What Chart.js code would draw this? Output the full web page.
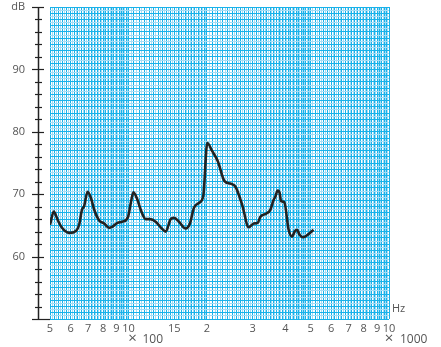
<!DOCTYPE html>
<html>
<head>
<meta charset="utf-8">
<script src="https://cdn.jsdelivr.net/npm/chart.js@4.4.1/dist/chart.umd.min.js"></script>
<style>
  html, body { margin: 0; padding: 0; background: #fff; }
  #wrap { width: 441px; height: 347px; position: relative; }
</style>
</head>
<body>
<div id="wrap"><canvas id="chart" width="441" height="347"></canvas></div>
<script>
// Measured response: frequency (Hz) and sound level (dB)
const freqHz = [500, 517, 535, 554, 593, 629, 647, 663, 676, 697,
  718, 739, 772, 807, 843, 869, 908, 949, 997, 1021,
  1045, 1083, 1115, 1165, 1210, 1272, 1350, 1390, 1453, 1495,
  1563, 1658, 1722, 1783, 1864, 1937, 2007, 2097, 2203, 2337,
  2464, 2575, 2732, 2895, 3026, 3134, 3210, 3384, 3505, 3609,
  3663, 3738, 3805, 3852, 3965, 4119, 4245, 4344, 4436, 4539,
  4676, 4912, 5133];
const levelDb = [65.1, 67.2, 65.9, 64.7, 63.8, 64.1, 65.1, 67.5, 68.1, 70.4,
  69.4, 67.5, 65.8, 65.3, 64.6, 64.8, 65.4, 65.6, 66.4, 68.6,
  70.3, 69.1, 67.5, 66.0, 66.0, 65.6, 64.4, 64.0, 66.0, 66.2,
  65.6, 64.5, 65.3, 67.8, 68.6, 69.7, 78.2, 76.9, 75.3, 72.1,
  71.7, 71.2, 68.3, 64.7, 65.3, 65.4, 66.4, 66.9, 67.5, 69.1,
  69.6, 70.6, 70.2, 68.9, 68.7, 64.3, 63.2, 64.0, 64.3, 63.5,
  63.1, 63.6, 64.3];

// Frequency axis labels (mantissa only, multipliers written below)
const xTickValues = [500, 600, 700, 800, 900, 1000, 1500, 2000, 3000, 4000, 5000, 6000, 7000, 8000, 9000, 10000];
const xTickText   = ['5', '6', '7', '8', '9', '10', '15', '2', '3', '4', '5', '6', '7', '8', '9', '10'];
// Level axis labels
const yTickValues = [60, 70, 80, 90];
const yTickText   = ['60', '70', '80', '90'];

const GRID_DARK = '#19b2ea';
const GRID_LIGHT = '#a3dcf5';
const INK = '#222';
const TEXT = '#555';
const FONT = '"Open Sans", "DejaVu Sans", sans-serif';

// Log graph-paper rulings: [from, to, major step]; a light line sits halfway between majors
const xRulings = [[500, 1000, 20], [1000, 2000, 50], [2000, 5000, 100], [5000, 10000, 200]];
const xGrid = [];
xRulings.forEach(([a, b, s]) => {
  for (let v = a; v < b - 1e-6; v += s) {
    xGrid.push({ value: v, major: true });
    xGrid.push({ value: v + s / 2, major: false });
  }
});
xGrid.push({ value: 10000, major: true });
const yGrid = [];
for (let v = 50; v <= 100; v += 0.5) yGrid.push({ value: v, major: Number.isInteger(v) });

const xLabel = {}; xTickValues.forEach((v, i) => xLabel[v] = xTickText[i]);
const yLabel = {}; yTickValues.forEach((v, i) => yLabel[v] = yTickText[i]);

// Left-hand dB ruler with tick marks, plus unit captions
const annotations = {
  id: 'annotations',
  afterDraw(chart) {
    const { ctx, scales: { x, y }, chartArea } = chart;
    ctx.save();
    const ax = 38.5;
    ctx.strokeStyle = INK;
    ctx.lineWidth = 1.5;
    ctx.beginPath();
    ctx.moveTo(ax, y.getPixelForValue(100));
    ctx.lineTo(ax, y.getPixelForValue(50));
    ctx.stroke();
    ctx.lineWidth = 1.2;
    for (let v = 50; v <= 100; v += 2) {
      const py = Math.round(y.getPixelForValue(v)) + 0.5;
      ctx.beginPath();
      if (v === 50) { ctx.moveTo(32, py); ctx.lineTo(chartArea.left, py); }
      else if (v % 10 === 0) { ctx.moveTo(32, py); ctx.lineTo(44, py); }
      else { ctx.moveTo(35, py); ctx.lineTo(42, py); }
      ctx.stroke();
    }
    ctx.fillStyle = TEXT;
    ctx.font = '11px ' + FONT;
    ctx.textBaseline = 'middle';
    ctx.textAlign = 'right';
    ctx.fillText('dB', 25, 7);
    ctx.textAlign = 'left';
    ctx.fillText('Hz', 392, 309);
    const x1 = x.getPixelForValue(1000);
    const x2 = x.getPixelForValue(10000);
    ctx.font = '15px ' + FONT;
    ctx.textAlign = 'center';
    ctx.fillText('\u00d7', x1 + 4, 339);
    ctx.fillText('\u00d7', x2, 339);
    ctx.font = '12px ' + FONT;
    ctx.textAlign = 'left';
    ctx.fillText('100', x1 + 14, 340);
    ctx.fillText('1000', x2 + 11, 340);
    ctx.restore();
  }
};

new Chart(document.getElementById('chart'), {
  type: 'line',
  data: {
    datasets: [{
      data: freqHz.map((f, i) => ({ x: f, y: levelDb[i] })),
      borderColor: INK,
      borderWidth: 2.6,
      pointRadius: 0,
      fill: false,
      cubicInterpolationMode: 'monotone'
    }]
  },
  options: {
    responsive: false,
    animation: false,
    layout: { padding: { top: 7, right: 52, left: 0, bottom: 0 } },
    plugins: { legend: { display: false }, tooltip: { enabled: false } },
    scales: {
      x: {
        type: 'logarithmic',
        min: 500,
        max: 10000,
        afterBuildTicks(scale) { scale.ticks = xGrid.map(t => ({ value: t.value, major: false })); },
        afterFit(scale) { scale.height = 28; scale.paddingLeft = 0; scale.paddingRight = 0; },
        border: { display: false },
        grid: {
          drawTicks: false,
          color: ctx => (xGrid[ctx.index] && xGrid[ctx.index].major) ? GRID_DARK : GRID_LIGHT,
          lineWidth: 1
        },
        ticks: {
          autoSkip: false,
          maxRotation: 0,
          padding: 3,
          color: TEXT,
          font: { family: FONT, size: 11 },
          callback: v => xLabel[v] !== undefined ? xLabel[v] : ''
        }
      },
      y: {
        type: 'linear',
        min: 50,
        max: 100,
        afterBuildTicks(scale) { scale.ticks = yGrid.map(t => ({ value: t.value })); },
        afterFit(scale) { scale.width = 50; scale.paddingTop = 0; scale.paddingBottom = 0; },
        border: { display: false },
        grid: {
          drawTicks: false,
          color: ctx => (yGrid[ctx.index] && yGrid[ctx.index].major) ? GRID_DARK : GRID_LIGHT,
          lineWidth: 1
        },
        ticks: {
          autoSkip: false,
          padding: 25,
          color: TEXT,
          font: { family: FONT, size: 11 },
          callback: v => yLabel[v] !== undefined ? yLabel[v] : ''
        }
      }
    }
  },
  plugins: [annotations]
});
</script>
</body>
</html>
